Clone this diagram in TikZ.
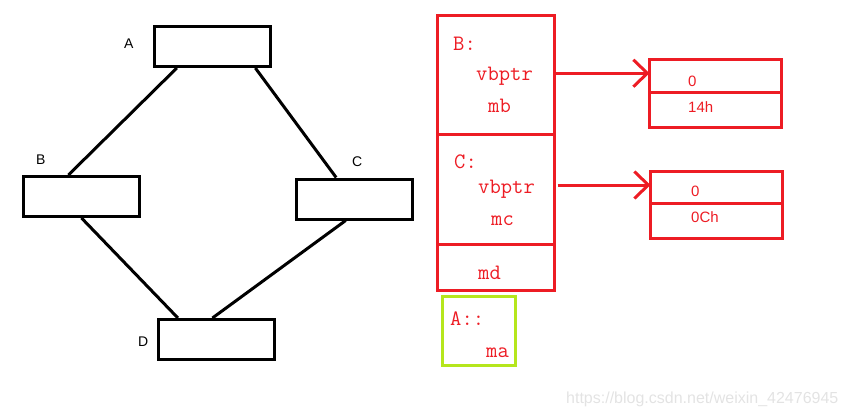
\documentclass[tikz,border=0pt]{standalone}
\usepackage{fontspec}
\newfontfamily\lblfont{Liberation Sans}
\usetikzlibrary{positioning, calc, arrows.meta}
\definecolor{pred}{RGB}{237,28,36}
\definecolor{pgreen}{RGB}{181,230,29}

\begin{document}
\begin{tikzpicture}
[
	x=1pt, y=-1pt,
	box/.style = {draw, line width=3pt, rectangle, inner sep=0pt, minimum width=116pt, minimum height=40pt},
	redbox/.style = {draw=pred, line width=3pt, rectangle, inner sep=0pt, outer sep=0pt, minimum width=117pt},
	cell/.style = {draw=pred, line width=3pt, rectangle, inner sep=0pt, outer sep=0pt, minimum width=132pt},
	greenbox/.style = {draw=pgreen, line width=3pt, rectangle, inner sep=0pt, minimum width=73pt, minimum height=69pt},
	lbl/.style = {anchor=base west, inner sep=0pt, font=\lblfont\fontsize{14}{16}\selectfont},
	code/.style = {anchor=base west, inner sep=0pt, text=pred, font=\ttfamily\fontsize{22}{26}\selectfont},
	small/.style = {anchor=base west, inner sep=0pt, text=pred, font=\lblfont\fontsize{15}{17}\selectfont},
	link/.style = {line width=3pt},
	ptr/.style = {draw=pred, line width=3pt, -{Straight Barb[length=14pt, width=27pt]}}
]
\useasboundingbox (0,0) rectangle (846,415);

% diamond of classes
\node[box] (A) at (212.5,46.5) {};
\node[box] (B) at (81.5,196.5) {};
\node[box] (C) at (354,199) {};
\node[box] (D) at (216,339.5) {};
\node[lbl] (la) at (124,48) {A};
\node[lbl] (lb) at (36,164) {B};
\node[lbl] (lc) at (352,166) {C};
\node[lbl] (ld) at (138,346) {D};

\draw[link] ($(A.south west)!0.2!(A.south east)$) -- ($(B.north west)!0.39!(B.north east)$);
\draw[link] ($(A.south west)!0.86!(A.south east)$) -- ($(C.north west)!0.35!(C.north east)$);
\draw[link] ($(B.south west)!0.5!(B.south east)$) -- ($(D.north west)!0.18!(D.north east)$);
\draw[link] ($(C.south west)!0.43!(C.south east)$) -- ($(D.north west)!0.47!(D.north east)$);

% object layout
\node[redbox, minimum height=118.5pt] (bpart) at (496,74.75) {};
\node[redbox, minimum height=110pt] (cpart) [below=0pt of bpart] {};
\node[redbox, minimum height=46.5pt] (dpart) [below=0pt of cpart] {};
\node[greenbox] (apart) at (479,331) {};

\node[code] (tb) at (453,50) {B:};
\node[code] (tbv) at (476,80) {vbptr};
\node[code] (tmb) at (488,112) {mb};
\node[code] (tc) at (454,168) {C:};
\node[code] (tcv) at (478,193) {vbptr};
\node[code] (tmc) at (491,225) {mc};
\node[code] (tmd) at (478,279) {md};
\node[code] (ta) at (450,325) {A::};
\node[code] (tma) at (486,357) {ma};

% vbtables
\node[cell, minimum height=32.5pt] (vt1a) at (715.5,75.75) {};
\node[cell, minimum height=35.5pt] (vt1b) [below=0pt of vt1a] {};
\node[cell, minimum height=31.5pt] (vt2a) at (716.5,187.25) {};
\node[cell, minimum height=35.5pt] (vt2b) [below=0pt of vt2a] {};
\node[small] (v1) at (688,86) {0};
\node[small] (v2) at (688,112) {14h};
\node[small] (v3) at (691,196) {0};
\node[small] (v4) at (691,222) {0Ch};

\draw[ptr] ([yshift=1.5pt]bpart.east) -- ([yshift=1.5pt]bpart.east -| vt1a.west);
\draw[ptr] ([xshift=3pt, yshift=4pt]cpart.east) -- ([yshift=4pt]cpart.east -| vt2a.west);

\node[anchor=base west, inner sep=0pt, text=gray!22, font=\lblfont\fontsize{16}{18}\selectfont] (wm) at (566,403) {https://blog.csdn.net/weixin\_42476945};
\end{tikzpicture}
\end{document}
